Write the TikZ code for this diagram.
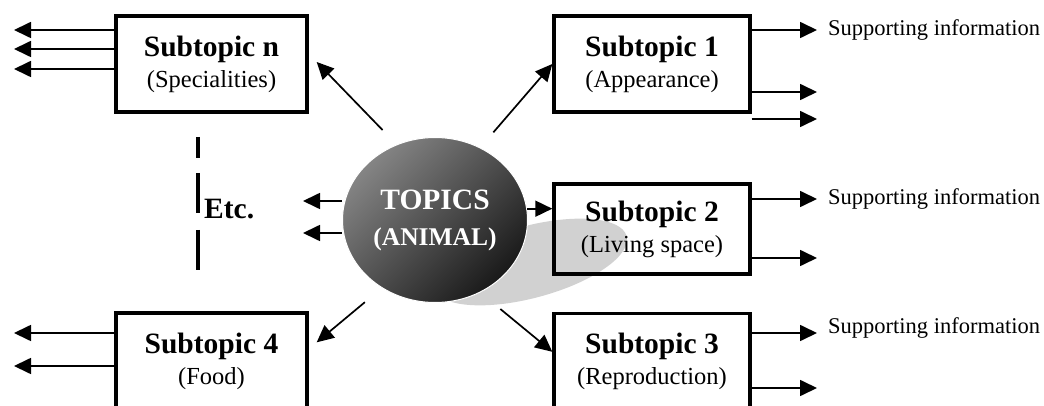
\documentclass[tikz,border=0pt]{standalone}
\usepackage{fontspec}
\setmainfont{Liberation Serif}
\usetikzlibrary{positioning,calc,arrows.meta,shapes.geometric}
\newcommand{\TitleFont}{\fontsize{29.5}{31}\selectfont\bfseries}
\newcommand{\SubFont}{\fontsize{24.5}{31}\selectfont}
\tikzset{
  subbox/.style = {draw, line width=3.4pt, minimum width=196pt, minimum height=96pt,
                   align=center, inner sep=0pt, font=\SubFont},
  topic/.style  = {ellipse, minimum width=185pt, minimum height=165pt, inner sep=0pt,
                   align=center, text=white, top color=black!48, bottom color=black!90,
                   shading angle=45, draw=white, line width=1pt,
                   font=\fontsize{25.5}{36}\selectfont\bfseries},
  conn/.style   = {line width=1.7pt},
  info/.style   = {inner sep=0pt, font=\fontsize{22.5}{24}\selectfont},
  >={Triangle[length=17pt,width=16pt]}
}
\newcommand{\DrawSubtopic}[5][]{%
  % draws the box with its title (bold) and its subject
  \node[subbox,#1] (#2) at #3 {{\TitleFont #4}\\(#5)};
}

\begin{document}
\begin{tikzpicture}[x=1pt,y=-1pt]
    \useasboundingbox (0,0) rectangle (1044,406);
    \clip (0,0) rectangle (1044,406);

    % shadow of the topic
    \fill[black!18, rotate around={15:(530,262)}] (530,262) ellipse (100 and 36);

    \node[topic] (topic) at (435,220) {{\fontsize{29.5}{36}\selectfont TOPICS}\\(ANIMAL)};

    \DrawSubtopic[minimum width=191pt]{stn}{(211.5,64)}{Subtopic n}{Specialities}
    \DrawSubtopic{st1}{(652,64)}{Subtopic 1}{Appearance}
    \DrawSubtopic[minimum height=90pt]{st2}{(652,229)}{Subtopic 2}{Living space}
    \DrawSubtopic{st3}{(652,361.5)}{Subtopic 3}{Reproduction}
    \DrawSubtopic[minimum width=191pt]{st4}{(211.5,361)}{Subtopic 4}{Food}

    % topic to subtopics
    \draw[conn,->,shorten <=20pt] (topic.117) -- ($(stn.east)+(8,-2)$);
    \draw[conn,->,shorten <=20pt] (topic.58) -- (st1.west);
    \draw[conn,->] (topic.7) -- (topic.7 -| st2.west);
    \draw[conn,->,shorten <=26pt] (topic.302) -- ($(st3.north west)+(0,40)$);
    \draw[conn,->,shorten <=22pt] (topic.232) -- ($(st4.north east)+(8,31)$);
    \foreach \y [count=\i] in {201,233}{
      \coordinate (e\i) at (303,\y);
      \draw[conn,->] (topic.west |- e\i) -- (e\i);
    }

    % supporting information
    \foreach \y [count=\i] in {30,49,69}{
      \coordinate (an\i) at (14,\y);
      \draw[conn,->] (stn.west |- an\i) -- (an\i);
    }
    \foreach \y [count=\i] in {30,92,119}{
      \coordinate (a1\i) at (817,\y);
      \draw[conn,->] (st1.east |- a1\i) -- (a1\i);
    }
    \foreach \y [count=\i] in {199,258}{
      \coordinate (a2\i) at (817,\y);
      \draw[conn,->] (st2.east |- a2\i) -- (a2\i);
    }
    \foreach \y [count=\i] in {333,388}{
      \coordinate (a3\i) at (817,\y);
      \draw[conn,->] (st3.east |- a3\i) -- (a3\i);
    }
    \foreach \y [count=\i] in {333,366}{
      \coordinate (a4\i) at (14,\y);
      \draw[conn,->] (st4.west |- a4\i) -- (a4\i);
    }
    \node[info, right=11pt of a11] (i1) {Supporting information};
    \node[info, right=11pt of a21] (i2) {Supporting information};
    \node[info, right=11pt of a31, yshift=5pt] (i3) {Supporting information};

    % etc.
    \draw[line width=4.5pt, dash pattern=on 21pt off 15pt on 40pt off 17pt on 40pt]
      (198,137) -- (198,270);
    \node[font=\TitleFont, inner sep=0pt, anchor=west] (etc) at (204,209) {Etc.};
\end{tikzpicture}
\end{document}
